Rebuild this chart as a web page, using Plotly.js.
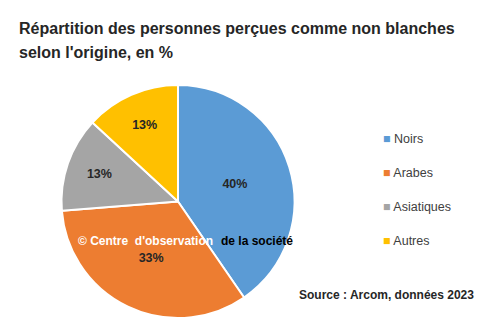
<!DOCTYPE html>
<html>
<head>
<meta charset="utf-8">
<script src="https://cdn.plot.ly/plotly-3.0.1.min.js"></script>
<style>html,body{margin:0;padding:0;background:#fff;}#chart{width:496px;height:336px;}</style>
</head>
<body>
<div id="chart"></div>
<script>
const categories = ["Noirs", "Arabes", "Asiatiques", "Autres"];
const values = [40, 33, 13, 13];
const colors = ["#5B9BD5", "#ED7D31", "#A5A5A5", "#FFC000"];
const titleLines = ["Répartition des personnes perçues comme non blanches", "selon l'origine, en %"];
const sourceText = "Source : Arcom, données 2023";
const watermarkA = "© Centre  d'observation";
const watermarkB = "de la société";

const FONT = 'Liberation Sans, Arial';

const legendAnn = categories.map((c, i) => ({
  xref: 'paper', yref: 'paper', x: 381/496, y: 1 - (139 + 34*i)/336,
  xanchor: 'left', yanchor: 'middle', showarrow: false,
  text: '<span style="color:' + colors[i] + '">■</span> ' + c,
  font: {family: FONT, size: 12.5, color: '#404040'}
}));

const titleAnn = titleLines.map((t, i) => ({
  xref: 'paper', yref: 'paper', x: 17/496, y: 1 - (28 + 24*i)/336,
  xanchor: 'left', yanchor: 'middle', showarrow: false,
  text: t, font: {family: FONT, size: 16, color: '#262626', weight: 'bold'}
}));

const data = [{
  type: 'pie',
  labels: categories,
  values: values,
  sort: false,
  direction: 'clockwise',
  rotation: 0,
  marker: {colors: colors, line: {color: '#ffffff', width: 2}},
  texttemplate: '%{value}%',
  textposition: 'inside',
  insidetextorientation: 'horizontal',
  textfont: {family: FONT, size: 12.5, color: '#262626', weight: 'bold'},
  showlegend: false,
  hoverinfo: 'none',
  domain: {x: [61/496, 295/496], y: [1 - 318/336, 1 - 85/336]}
}];

const layout = {
  width: 496, height: 336,
  margin: {l: 0, r: 0, t: 0, b: 0},
  paper_bgcolor: '#ffffff',
  showlegend: false,
  annotations: titleAnn.concat(legendAnn).concat([
    {xref: 'paper', yref: 'paper', x: 297/496, y: 1 - 295/336, xanchor: 'left', yanchor: 'middle', showarrow: false,
     text: sourceText, font: {family: FONT, size: 12, color: '#262626', weight: 'bold'}},
    {xref: 'paper', yref: 'paper', x: 76/496, y: 1 - 241/336, xanchor: 'left', yanchor: 'middle', showarrow: false,
     text: watermarkA, font: {family: FONT, size: 12, color: '#ffffff', weight: 'bold'}},
    {xref: 'paper', yref: 'paper', x: 219/496, y: 1 - 241/336, xanchor: 'left', yanchor: 'middle', showarrow: false,
     text: watermarkB, font: {family: FONT, size: 12, color: '#000000', weight: 'bold'}}
  ])
};

Plotly.newPlot('chart', data, layout, {displayModeBar: false, staticPlot: true});
</script>
</body>
</html>
